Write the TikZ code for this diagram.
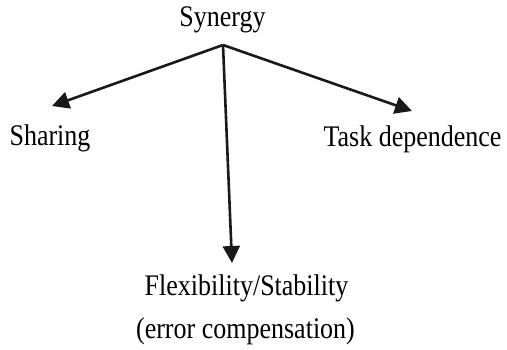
\documentclass[tikz,border=0pt]{standalone}
\usepackage{fontspec}
\setmainfont{Liberation Serif}
\usetikzlibrary{arrows.meta}
% slightly tall lettering
\newcommand{\talltext}[1]{\scalebox{1}[1.15]{#1}}
\begin{document}
\begin{tikzpicture}[x=1pt,y=-1pt,
  label text/.style={font=\fontsize{26}{30}\selectfont, inner sep=0pt, anchor=base},
  branch/.style={line width=2.6pt, -{Triangle[length=17pt,width=17pt]}, draw=black!90}]
  \useasboundingbox (0,0) rectangle (507,350);
  % text nodes, placed by their baselines
  \node[label text] (syn) at (222.5,27) {\talltext{Synergy}};
  \node[label text] (share) at (50,146) {\talltext{Sharing}};
  \node[label text] (task) at (412.5,147) {\talltext{Task dependence}};
  \node[label text] (flex) at (246.5,296) {\talltext{Flexibility/Stability}};
  \node[label text] (err) at (245.5,338) {\talltext{(error compensation)}};
  % branch point and arrow ends
  \coordinate (apex) at (223,45);
  \coordinate (tipL) at (52,106);
  \coordinate (tipR) at (412,111);
  \coordinate (tipD) at (232,263);
  \draw[branch] (apex) -- (tipL);
  \draw[branch] (apex) -- (tipR);
  \draw[branch] (apex) -- (tipD);
\end{tikzpicture}
\end{document}
